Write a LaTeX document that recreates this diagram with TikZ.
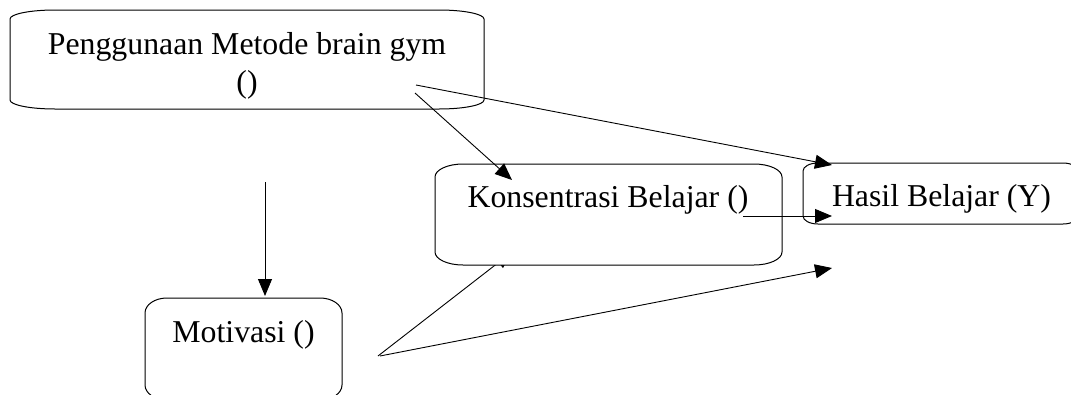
\documentclass[tikz,border=0pt]{standalone}
\usepackage{fontspec}
\setmainfont{Liberation Serif}
\usetikzlibrary{arrows.meta}
\newcommand{\ovalbox}[3]{%
  \path[boxline] ([xshift=#2]#1.north west) -- ([xshift=-#2]#1.north east)
    arc[start angle=90,end angle=0,x radius=#2,y radius=#3]
    -- ([yshift=#3]#1.south east)
    arc[start angle=0,end angle=-90,x radius=#2,y radius=#3]
    -- ([xshift=#2]#1.south west)
    arc[start angle=270,end angle=180,x radius=#2,y radius=#3]
    -- ([yshift=-#3]#1.north west)
    arc[start angle=180,end angle=90,x radius=#2,y radius=#3] -- cycle;}
\tikzset{
  boxarea/.style={rectangle,draw=none,inner sep=0pt,outer sep=0pt},
  boxline/.style={draw=black,line width=1pt,fill=white},
  lbl/.style={font=\fontsize{31.8}{38}\selectfont,inner sep=0pt,anchor=base,align=center},
  arr/.style={line width=0.9pt,-{Triangle[length=17pt,width=14pt]}}
}
\begin{document}
\begin{tikzpicture}[x=1pt,y=-1pt]
\useasboundingbox (0,0) rectangle (1071,394);
\clip (0,0) rectangle (1071,394);
% box areas
\node[boxarea,minimum width=474pt,minimum height=99pt] (b1) at (247,59.5) {};
\node[boxarea,minimum width=347pt,minimum height=101pt] (b2) at (608.5,214.5) {};
\node[boxarea,minimum width=275pt,minimum height=61pt] (b3) at (940.5,193.5) {};
\node[boxarea,minimum width=197pt,minimum height=102pt] (b4) at (243.5,349) {};
% arrow ends
\coordinate (s1) at (415,93);
\coordinate (e1) at (512,180);
\coordinate (s2) at (416,85);
\coordinate (e2) at (832,165);
\coordinate (s3) at (265,182);
\coordinate (e3) at (265,296);
\coordinate (s4) at (743,216);
\coordinate (e4) at (832,216);
\coordinate (s5) at (378,356);
\coordinate (e5) at (512,252);
\coordinate (s6) at (380,356);
\coordinate (e6) at (832,268);
% hidden arrow under Konsentrasi box
\draw[arr] (s5) -- (e5);
% boxes
\ovalbox{b1}{45pt}{9pt}
\ovalbox{b2}{28pt}{13pt}
\ovalbox{b3}{15pt}{8pt}
\ovalbox{b4}{22pt}{15pt}
% texts
\node[lbl] (t1) at (247,92) {Penggunaan Metode brain gym\\()};
\node[lbl] (t2) at (608,207) {Konsentrasi Belajar ()};
\node[lbl] (t3) at (941.5,206) {Hasil Belajar (Y)};
\node[lbl] (t4) at (243.5,342) {Motivasi ()};
% arrows
\draw[arr] (s1) -- (e1);
\draw[arr] (s2) -- (e2);
\draw[arr] (s3) -- (e3);
\draw[arr] (s4) -- (e4);
\draw[arr] (s6) -- (e6);
\end{tikzpicture}
\end{document}
